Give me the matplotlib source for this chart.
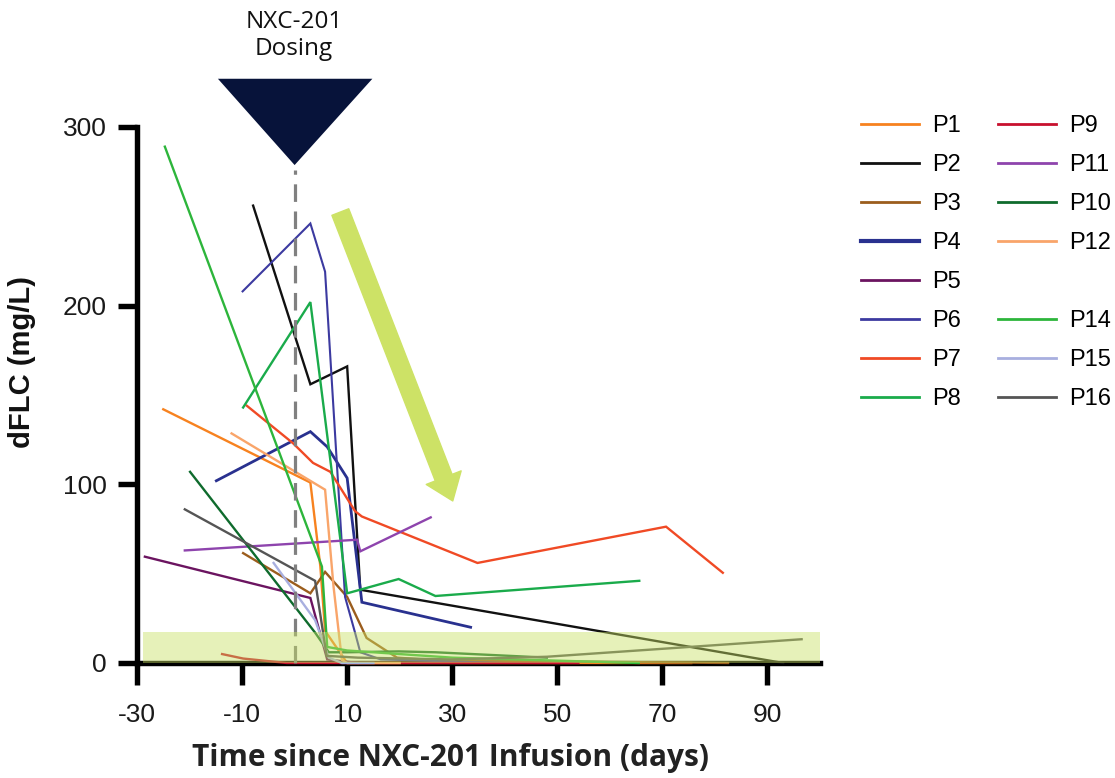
import matplotlib
matplotlib.use('Agg')
import matplotlib.pyplot as plt
from matplotlib.patches import Polygon, Rectangle
from matplotlib.lines import Line2D

plt.rcParams['axes.unicode_minus'] = False

# ---------------- data ----------------
p1_days = [-25, 3, 4.9, 5.8, 10, 75.5]
p1_vals = [142, 101, 54, 18, 0, 0]
p2_days = [-7.9, 3, 10, 12.5, 93]
p2_vals = [256, 156, 166, 41, 0]
p3_days = [-9.8, 3, 5.8, 10, 13.7, 19.5, 27, 82.5]
p3_vals = [61.5, 39, 51, 37, 14, 3, 1.5, 0]
p4_days = [-14.9, 3, 6.2, 10, 12.8, 33.5]
p4_vals = [102, 129.5, 121, 103.5, 34, 20]
p5_days = [-28.5, 3, 6.2, 12]
p5_vals = [59.5, 36.4, 2, 0]
p6_days = [-9.9, 3, 5.8, 9.6, 11.5, 12.5, 16.4, 40]
p6_vals = [208, 246, 219, 37, 17, 6, 2, 0]
p7_days = [-9.1, -0.3, 3.5, 6.8, 11.5, 12.8, 34.8, 70.7, 81.5]
p7_vals = [144, 123, 112, 107, 85, 82, 56, 76.3, 50.5]
p8_days = [-9.8, 3, 10, 19.8, 26.8, 65.6]
p8_vals = [143, 202, 39, 47, 37.5, 46]
p9_days = [-13.8, -9.8, -1.5, 54]
p9_vals = [5, 2.5, 0, 0]
p11_days = [-20.9, 11.9, 12.5, 25.9]
p11_vals = [63, 69, 62.5, 81.5]
p10_days = [-19.9, 3.9, 6.5, 10, 19.8, 26.8, 48]
p10_vals = [107, 17, 6, 6, 6.5, 6, 3]
p12_days = [-12, 5.8, 7.4, 9, 10, 20]
p12_vals = [128.5, 97, 43, 1.7, 0, 0]
p14_days = [-24.7, 5.2, 6.2, 10, 30, 65.5]
p14_vals = [289, 54, 9, 7, 3, 0]
p15_days = [-4, 3.9, 6.5, 9, 15]
p15_vals = [56, 24, 3, 0, 0]
p16_days = [-20.9, 3.9, 6.1, 12, 30, 48, 96.5]
p16_vals = [86, 46, 4, 3, 2, 3.5, 13.3]

x_ticks = [-30, -10, 10, 30, 50, 70, 90]
y_ticks = [0, 100, 200, 300]
band_top = 17.5          # response threshold band
dosing_day = 0

# ---------------- styling ----------------
series = [
    ('P1', p1_days, p1_vals, '#f7821f', 1.7),
    ('P2', p2_days, p2_vals, '#111111', 1.7),
    ('P3', p3_days, p3_vals, '#9b5d1d', 1.7),
    ('P4', p4_days, p4_vals, '#29318f', 2.0),
    ('P5', p5_days, p5_vals, '#6b1460', 1.7),
    ('P6', p6_days, p6_vals, '#3c3aa0', 1.5),
    ('P7', p7_days, p7_vals, '#f04a25', 1.7),
    ('P8', p8_days, p8_vals, '#1aab4b', 1.7),
    ('P9', p9_days, p9_vals, '#c8102e', 1.7),
    ('P11', p11_days, p11_vals, '#8e44ad', 1.7),
    ('P10', p10_days, p10_vals, '#0f6b2d', 1.7),
    ('P12', p12_days, p12_vals, '#f9a56a', 1.7),
    ('P14', p14_days, p14_vals, '#2db53b', 1.7),
    ('P15', p15_days, p15_vals, '#a8afdf', 1.7),
    ('P16', p16_days, p16_vals, '#555555', 1.7),
]

fig = plt.figure(figsize=(11.15, 7.78), dpi=100)
ax = fig.add_axes([137/1115, 1-663/778, (820-137)/1115, (663-127)/778])

lines = {}
for name, d, v, c, lw in series:
    ln, = ax.plot(d, v, color=c, lw=lw, zorder=3, clip_on=False, solid_joinstyle='miter')
    lines[name] = ln

# translucent green band on top
ax.add_patch(Rectangle((-28.9, 0), 128.9, band_top, facecolor='#c8e164', alpha=0.45,
                       edgecolor='none', zorder=4))

# dosing marker
ax.plot([dosing_day, dosing_day], [0, 276], color='#808080', lw=2.3, dashes=[5.5, 3],
        zorder=3.5, clip_on=False)
ax.add_patch(Polygon([(-14.6, 327), (14.8, 327), (0, 278.7)], closed=True,
                     facecolor='#07133a', edgecolor='none', clip_on=False, zorder=5))
fig.text(294/1115, 1-28/778, 'NXC-201', ha='center', va='baseline', fontsize=17.5,
         family='Open Sans', color='#111111')
fig.text(294/1115, 1-55/778, 'Dosing', ha='center', va='baseline', fontsize=17.5,
         family='Open Sans', color='#111111')

# trend arrow
ax.annotate('', xy=(30.1, 90.7), xytext=(8.7, 252.4),
            arrowprops=dict(arrowstyle='simple,head_length=18,head_width=27,tail_width=13',
                            mutation_scale=1, color='#cde266', shrinkA=0, shrinkB=0),
            zorder=5, annotation_clip=False)

ax.set_xlim(-30, 100)
ax.set_ylim(0, 300)
ax.set_xticks(x_ticks)
ax.set_yticks(y_ticks)
for s in ['top', 'right']:
    ax.spines[s].set_visible(False)
for s in ['left', 'bottom']:
    ax.spines[s].set_linewidth(3.9)
    ax.spines[s].set_color('black')
ax.tick_params(axis='y', length=14, width=3.9, pad=8, labelsize=19, labelcolor='#1a1a1a')
ax.tick_params(axis='x', length=16, width=3.9, pad=13, labelsize=19, labelcolor='#1a1a1a')
for lab in ax.get_xticklabels() + ax.get_yticklabels():
    lab.set_family('Liberation Sans')

fig.text(22/1115, 1-362/778, 'dFLC (mg/L)', rotation=90, ha='center', va='center',
         fontsize=21, fontweight='bold', family='Liberation Sans', color='#111111')
fig.text(451/1115, 1-758/778, 'Time since NXC-201 Infusion (days)', ha='center', va='center',
         fontsize=21.5, fontweight='bold', family='Open Sans', color='#222222')

# legend: two columns with a blank slot
order = ['P1', 'P2', 'P3', 'P4', 'P5', 'P6', 'P7', 'P8',
         'P9', 'P11', 'P10', 'P12', None, 'P14', 'P15', 'P16']
handles, labels = [], []
for n in order:
    if n is None:
        handles.append(Line2D([], [], color='none'))
        labels.append('')
    else:
        ln = lines[n]
        handles.append(Line2D([], [], color=ln.get_color(),
                              lw=3.0 if n == 'P4' else 2.0))
        labels.append(n)
leg = fig.legend(handles, labels, ncol=2, loc='upper left',
                 bbox_to_anchor=(861/1115, 1-115/778), frameon=False,
                 prop={'family': 'Liberation Sans', 'size': 17},
                 handlelength=2.45, handletextpad=0.55, columnspacing=1.6,
                 labelspacing=0.72, borderpad=0, borderaxespad=0)

fig.savefig('out.png', dpi=100)
